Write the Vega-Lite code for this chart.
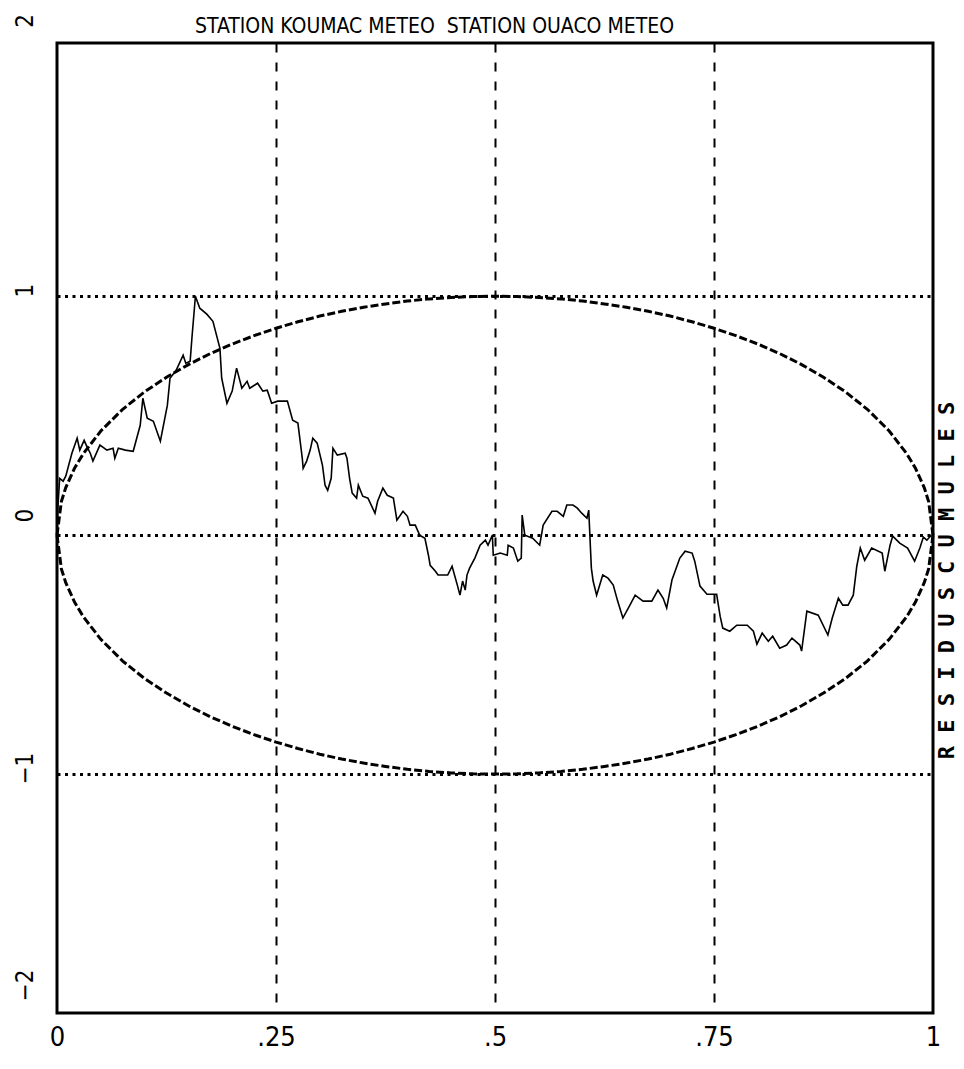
{
  "$schema": "https://vega.github.io/schema/vega-lite/v6.json",
  "width": 876,
  "height": 970,
  "autosize": {"type": "none"},
  "padding": {"left": 57, "top": 43, "right": 31, "bottom": 56},
  "background": "white",
  "title": {
    "text": "STATION KOUMAC METEO \u00a0STATION OUACO METEO",
    "anchor": "start",
    "frame": "group",
    "dx": 138,
    "offset": -24,
    "font": "DejaVu Sans Condensed, Liberation Sans Narrow, sans-serif",
    "fontSize": 21,
    "fontWeight": "normal",
    "color": "black"
  },
  "config": {
    "view": {"stroke": "black", "strokeWidth": 3},
    "axis": {"labelColor": "black", "titleColor": "black"}
  },
  "datasets": {
    "series": [
      {"x": 0.000, "y": 0.000}, {"x": 0.001, "y": 0.113}, {"x": 0.003, "y": 0.238}, {"x": 0.007, "y": 0.226},
      {"x": 0.010, "y": 0.247}, {"x": 0.017, "y": 0.343}, {"x": 0.023, "y": 0.406}, {"x": 0.026, "y": 0.356},
      {"x": 0.031, "y": 0.397}, {"x": 0.034, "y": 0.372}, {"x": 0.038, "y": 0.343}, {"x": 0.041, "y": 0.310},
      {"x": 0.049, "y": 0.377}, {"x": 0.057, "y": 0.356}, {"x": 0.064, "y": 0.364}, {"x": 0.066, "y": 0.322},
      {"x": 0.070, "y": 0.364}, {"x": 0.078, "y": 0.356}, {"x": 0.087, "y": 0.351}, {"x": 0.095, "y": 0.460},
      {"x": 0.098, "y": 0.573}, {"x": 0.103, "y": 0.490}, {"x": 0.110, "y": 0.477}, {"x": 0.118, "y": 0.393},
      {"x": 0.126, "y": 0.544}, {"x": 0.129, "y": 0.657}, {"x": 0.136, "y": 0.690}, {"x": 0.144, "y": 0.753},
      {"x": 0.147, "y": 0.720}, {"x": 0.152, "y": 0.728}, {"x": 0.154, "y": 0.824}, {"x": 0.158, "y": 1.000},
      {"x": 0.163, "y": 0.950}, {"x": 0.171, "y": 0.925}, {"x": 0.178, "y": 0.895}, {"x": 0.186, "y": 0.782},
      {"x": 0.188, "y": 0.657}, {"x": 0.194, "y": 0.552}, {"x": 0.200, "y": 0.603}, {"x": 0.205, "y": 0.699},
      {"x": 0.211, "y": 0.615}, {"x": 0.217, "y": 0.644}, {"x": 0.220, "y": 0.615}, {"x": 0.229, "y": 0.636},
      {"x": 0.235, "y": 0.603}, {"x": 0.240, "y": 0.607}, {"x": 0.245, "y": 0.552}, {"x": 0.252, "y": 0.561},
      {"x": 0.263, "y": 0.561}, {"x": 0.269, "y": 0.481}, {"x": 0.275, "y": 0.469}, {"x": 0.280, "y": 0.322},
      {"x": 0.281, "y": 0.280}, {"x": 0.285, "y": 0.310}, {"x": 0.289, "y": 0.356}, {"x": 0.292, "y": 0.406},
      {"x": 0.297, "y": 0.385}, {"x": 0.303, "y": 0.293}, {"x": 0.306, "y": 0.209}, {"x": 0.309, "y": 0.188},
      {"x": 0.313, "y": 0.238}, {"x": 0.315, "y": 0.364}, {"x": 0.320, "y": 0.335}, {"x": 0.329, "y": 0.343},
      {"x": 0.331, "y": 0.322}, {"x": 0.334, "y": 0.238}, {"x": 0.337, "y": 0.176}, {"x": 0.342, "y": 0.155},
      {"x": 0.344, "y": 0.209}, {"x": 0.349, "y": 0.163}, {"x": 0.355, "y": 0.155}, {"x": 0.363, "y": 0.092},
      {"x": 0.366, "y": 0.142}, {"x": 0.372, "y": 0.197}, {"x": 0.377, "y": 0.167}, {"x": 0.384, "y": 0.155},
      {"x": 0.388, "y": 0.063}, {"x": 0.395, "y": 0.100}, {"x": 0.400, "y": 0.079}, {"x": 0.403, "y": 0.042},
      {"x": 0.409, "y": 0.042}, {"x": 0.414, "y": 0.000}, {"x": 0.420, "y": -0.013}, {"x": 0.424, "y": -0.084},
      {"x": 0.426, "y": -0.126}, {"x": 0.432, "y": -0.151}, {"x": 0.435, "y": -0.167}, {"x": 0.446, "y": -0.167},
      {"x": 0.451, "y": -0.130}, {"x": 0.457, "y": -0.209}, {"x": 0.460, "y": -0.251}, {"x": 0.463, "y": -0.192},
      {"x": 0.466, "y": -0.230}, {"x": 0.468, "y": -0.167}, {"x": 0.471, "y": -0.138}, {"x": 0.477, "y": -0.096},
      {"x": 0.483, "y": -0.042}, {"x": 0.489, "y": -0.021}, {"x": 0.492, "y": -0.042}, {"x": 0.497, "y": 0.000},
      {"x": 0.498, "y": -0.084}, {"x": 0.506, "y": -0.075}, {"x": 0.514, "y": -0.084}, {"x": 0.515, "y": -0.042},
      {"x": 0.521, "y": -0.054}, {"x": 0.526, "y": -0.109}, {"x": 0.530, "y": -0.096}, {"x": 0.531, "y": 0.084},
      {"x": 0.534, "y": 0.000}, {"x": 0.543, "y": -0.013}, {"x": 0.551, "y": -0.042}, {"x": 0.555, "y": 0.042},
      {"x": 0.565, "y": 0.100}, {"x": 0.571, "y": 0.100}, {"x": 0.578, "y": 0.079}, {"x": 0.582, "y": 0.126},
      {"x": 0.589, "y": 0.126}, {"x": 0.594, "y": 0.113}, {"x": 0.599, "y": 0.092}, {"x": 0.605, "y": 0.071},
      {"x": 0.607, "y": 0.105}, {"x": 0.610, "y": -0.138}, {"x": 0.612, "y": -0.192}, {"x": 0.616, "y": -0.251},
      {"x": 0.623, "y": -0.167}, {"x": 0.629, "y": -0.180}, {"x": 0.635, "y": -0.209}, {"x": 0.640, "y": -0.276},
      {"x": 0.646, "y": -0.347}, {"x": 0.654, "y": -0.293}, {"x": 0.660, "y": -0.251}, {"x": 0.669, "y": -0.276},
      {"x": 0.674, "y": -0.276}, {"x": 0.679, "y": -0.276}, {"x": 0.686, "y": -0.230}, {"x": 0.692, "y": -0.264},
      {"x": 0.696, "y": -0.305}, {"x": 0.702, "y": -0.188}, {"x": 0.711, "y": -0.096}, {"x": 0.717, "y": -0.067},
      {"x": 0.725, "y": -0.075}, {"x": 0.728, "y": -0.109}, {"x": 0.734, "y": -0.213}, {"x": 0.742, "y": -0.247},
      {"x": 0.753, "y": -0.247}, {"x": 0.757, "y": -0.339}, {"x": 0.760, "y": -0.389}, {"x": 0.768, "y": -0.402},
      {"x": 0.776, "y": -0.377}, {"x": 0.788, "y": -0.377}, {"x": 0.795, "y": -0.402}, {"x": 0.799, "y": -0.456},
      {"x": 0.805, "y": -0.410}, {"x": 0.812, "y": -0.444}, {"x": 0.817, "y": -0.423}, {"x": 0.825, "y": -0.473},
      {"x": 0.833, "y": -0.460}, {"x": 0.839, "y": -0.431}, {"x": 0.848, "y": -0.460}, {"x": 0.850, "y": -0.485},
      {"x": 0.856, "y": -0.318}, {"x": 0.869, "y": -0.335}, {"x": 0.880, "y": -0.418}, {"x": 0.885, "y": -0.347},
      {"x": 0.892, "y": -0.264}, {"x": 0.897, "y": -0.293}, {"x": 0.903, "y": -0.293}, {"x": 0.909, "y": -0.251},
      {"x": 0.913, "y": -0.130}, {"x": 0.917, "y": -0.054}, {"x": 0.922, "y": -0.105}, {"x": 0.930, "y": -0.054},
      {"x": 0.942, "y": -0.075}, {"x": 0.945, "y": -0.151}, {"x": 0.951, "y": -0.042}, {"x": 0.954, "y": -0.004},
      {"x": 0.962, "y": -0.033}, {"x": 0.971, "y": -0.054}, {"x": 0.979, "y": -0.109}, {"x": 0.985, "y": -0.054},
      {"x": 0.989, "y": -0.008}, {"x": 0.993, "y": -0.021}, {"x": 0.998, "y": 0.000}
    ],
    "ellipse": [
      {"x": 0.000, "y": 0.000, "branch": "haut"}, {"x": 0.005, "y": 0.141, "branch": "haut"},
      {"x": 0.010, "y": 0.199, "branch": "haut"}, {"x": 0.020, "y": 0.280, "branch": "haut"},
      {"x": 0.030, "y": 0.341, "branch": "haut"}, {"x": 0.050, "y": 0.436, "branch": "haut"},
      {"x": 0.075, "y": 0.527, "branch": "haut"}, {"x": 0.100, "y": 0.600, "branch": "haut"},
      {"x": 0.125, "y": 0.661, "branch": "haut"}, {"x": 0.150, "y": 0.714, "branch": "haut"},
      {"x": 0.175, "y": 0.760, "branch": "haut"}, {"x": 0.200, "y": 0.800, "branch": "haut"},
      {"x": 0.225, "y": 0.835, "branch": "haut"}, {"x": 0.250, "y": 0.866, "branch": "haut"},
      {"x": 0.275, "y": 0.893, "branch": "haut"}, {"x": 0.300, "y": 0.917, "branch": "haut"},
      {"x": 0.325, "y": 0.937, "branch": "haut"}, {"x": 0.350, "y": 0.954, "branch": "haut"},
      {"x": 0.375, "y": 0.968, "branch": "haut"}, {"x": 0.400, "y": 0.980, "branch": "haut"},
      {"x": 0.425, "y": 0.989, "branch": "haut"}, {"x": 0.450, "y": 0.995, "branch": "haut"},
      {"x": 0.475, "y": 0.999, "branch": "haut"}, {"x": 0.500, "y": 1.000, "branch": "haut"},
      {"x": 0.525, "y": 0.999, "branch": "haut"}, {"x": 0.550, "y": 0.995, "branch": "haut"},
      {"x": 0.575, "y": 0.989, "branch": "haut"}, {"x": 0.600, "y": 0.980, "branch": "haut"},
      {"x": 0.625, "y": 0.968, "branch": "haut"}, {"x": 0.650, "y": 0.954, "branch": "haut"},
      {"x": 0.675, "y": 0.937, "branch": "haut"}, {"x": 0.700, "y": 0.917, "branch": "haut"},
      {"x": 0.725, "y": 0.893, "branch": "haut"}, {"x": 0.750, "y": 0.866, "branch": "haut"},
      {"x": 0.775, "y": 0.835, "branch": "haut"}, {"x": 0.800, "y": 0.800, "branch": "haut"},
      {"x": 0.825, "y": 0.760, "branch": "haut"}, {"x": 0.850, "y": 0.714, "branch": "haut"},
      {"x": 0.875, "y": 0.661, "branch": "haut"}, {"x": 0.900, "y": 0.600, "branch": "haut"},
      {"x": 0.925, "y": 0.527, "branch": "haut"}, {"x": 0.950, "y": 0.436, "branch": "haut"},
      {"x": 0.970, "y": 0.341, "branch": "haut"}, {"x": 0.980, "y": 0.280, "branch": "haut"},
      {"x": 0.990, "y": 0.199, "branch": "haut"}, {"x": 0.995, "y": 0.141, "branch": "haut"},
      {"x": 1.000, "y": 0.000, "branch": "haut"},
      {"x": 0.000, "y": 0.000, "branch": "bas"}, {"x": 0.005, "y": -0.141, "branch": "bas"},
      {"x": 0.010, "y": -0.199, "branch": "bas"}, {"x": 0.020, "y": -0.280, "branch": "bas"},
      {"x": 0.030, "y": -0.341, "branch": "bas"}, {"x": 0.050, "y": -0.436, "branch": "bas"},
      {"x": 0.075, "y": -0.527, "branch": "bas"}, {"x": 0.100, "y": -0.600, "branch": "bas"},
      {"x": 0.125, "y": -0.661, "branch": "bas"}, {"x": 0.150, "y": -0.714, "branch": "bas"},
      {"x": 0.175, "y": -0.760, "branch": "bas"}, {"x": 0.200, "y": -0.800, "branch": "bas"},
      {"x": 0.225, "y": -0.835, "branch": "bas"}, {"x": 0.250, "y": -0.866, "branch": "bas"},
      {"x": 0.275, "y": -0.893, "branch": "bas"}, {"x": 0.300, "y": -0.917, "branch": "bas"},
      {"x": 0.325, "y": -0.937, "branch": "bas"}, {"x": 0.350, "y": -0.954, "branch": "bas"},
      {"x": 0.375, "y": -0.968, "branch": "bas"}, {"x": 0.400, "y": -0.980, "branch": "bas"},
      {"x": 0.425, "y": -0.989, "branch": "bas"}, {"x": 0.450, "y": -0.995, "branch": "bas"},
      {"x": 0.475, "y": -0.999, "branch": "bas"}, {"x": 0.500, "y": -1.000, "branch": "bas"},
      {"x": 0.525, "y": -0.999, "branch": "bas"}, {"x": 0.550, "y": -0.995, "branch": "bas"},
      {"x": 0.575, "y": -0.989, "branch": "bas"}, {"x": 0.600, "y": -0.980, "branch": "bas"},
      {"x": 0.625, "y": -0.968, "branch": "bas"}, {"x": 0.650, "y": -0.954, "branch": "bas"},
      {"x": 0.675, "y": -0.937, "branch": "bas"}, {"x": 0.700, "y": -0.917, "branch": "bas"},
      {"x": 0.725, "y": -0.893, "branch": "bas"}, {"x": 0.750, "y": -0.866, "branch": "bas"},
      {"x": 0.775, "y": -0.835, "branch": "bas"}, {"x": 0.800, "y": -0.800, "branch": "bas"},
      {"x": 0.825, "y": -0.760, "branch": "bas"}, {"x": 0.850, "y": -0.714, "branch": "bas"},
      {"x": 0.875, "y": -0.661, "branch": "bas"}, {"x": 0.900, "y": -0.600, "branch": "bas"},
      {"x": 0.925, "y": -0.527, "branch": "bas"}, {"x": 0.950, "y": -0.436, "branch": "bas"},
      {"x": 0.970, "y": -0.341, "branch": "bas"}, {"x": 0.980, "y": -0.280, "branch": "bas"},
      {"x": 0.990, "y": -0.199, "branch": "bas"}, {"x": 0.995, "y": -0.141, "branch": "bas"},
      {"x": 1.000, "y": 0.000, "branch": "bas"}
    ]
  },
  "encoding": {
    "x": {
      "field": "x",
      "type": "quantitative",
      "scale": {"domain": [0, 1], "nice": false, "zero": false},
      "axis": {
        "title": null,
        "values": [0, 0.25, 0.5, 0.75, 1],
        "labelExpr": "datum.value == 0 ? '0' : datum.value == 1 ? '1' : datum.value == 0.25 ? '.25' : datum.value == 0.5 ? '.5' : '.75'",
        "labelFont": "DejaVu Sans Condensed, Liberation Sans Narrow, sans-serif",
        "labelFontSize": 27,
        "labelPadding": 11,
        "labelFlush": false,
        "labelOverlap": false,
        "ticks": false,
        "domain": false,
        "grid": true,
        "gridColor": "black",
        "gridWidth": 2,
        "gridDash": [9, 10],
        "gridOpacity": {"condition": {"test": "datum.value == 0 || datum.value == 1", "value": 0}, "value": 1}
      }
    }
  },
  "layer": [
    {
      "data": {"name": "ellipse"},
      "mark": {"type": "line", "color": "black", "strokeWidth": 3, "strokeDash": [8, 3]},
      "encoding": {
        "y": {
          "field": "y",
          "type": "quantitative",
          "scale": {"domain": [-2, 2.06], "nice": false, "zero": false},
          "axis": {
            "orient": "right",
            "title": "R E S I D U S   C U M U L E S",
            "titleFont": "DejaVu Sans Mono, monospace",
            "titleFontSize": 22,
            "titleFontWeight": "bold",
            "titleAngle": 270,
            "titleAlign": "center",
            "titleBaseline": "middle",
            "titleX": 13,
            "titleY": 537,
            "labels": false,
            "ticks": false,
            "domain": false,
            "grid": false
          }
        },
        "detail": {"field": "branch"}
      }
    },
    {
      "data": {"name": "series"},
      "mark": {"type": "line", "color": "black", "strokeWidth": 1.6},
      "encoding": {
        "y": {
          "field": "y",
          "type": "quantitative",
          "scale": {"domain": [-2, 2.06], "nice": false, "zero": false},
          "axis": {
            "title": null,
            "values": [-2, -1, 0, 1, 2],
            "labelAngle": 270,
            "labelAlign": "center",
            "labelBaseline": "bottom",
            "labelFont": "DejaVu Sans Condensed, Liberation Sans Narrow, sans-serif",
            "labelFontSize": 24,
            "labelPadding": 20,
            "labelFlush": false,
            "labelOverlap": false,
            "labelOffset": {
              "condition": [
                {"test": "datum.value == 2", "value": -37},
                {"test": "datum.value == 0", "value": -20},
                {"test": "datum.value == -2", "value": -28}
              ],
              "value": -6
            },
            "ticks": false,
            "domain": false,
            "grid": true,
            "gridColor": "black",
            "gridWidth": 3,
            "gridDash": [3, 4.5],
            "gridOpacity": {"condition": {"test": "abs(datum.value) == 2", "value": 0}, "value": 1}
          }
        }
      }
    }
  ],
  "resolve": {"axis": {"y": "independent"}}
}
